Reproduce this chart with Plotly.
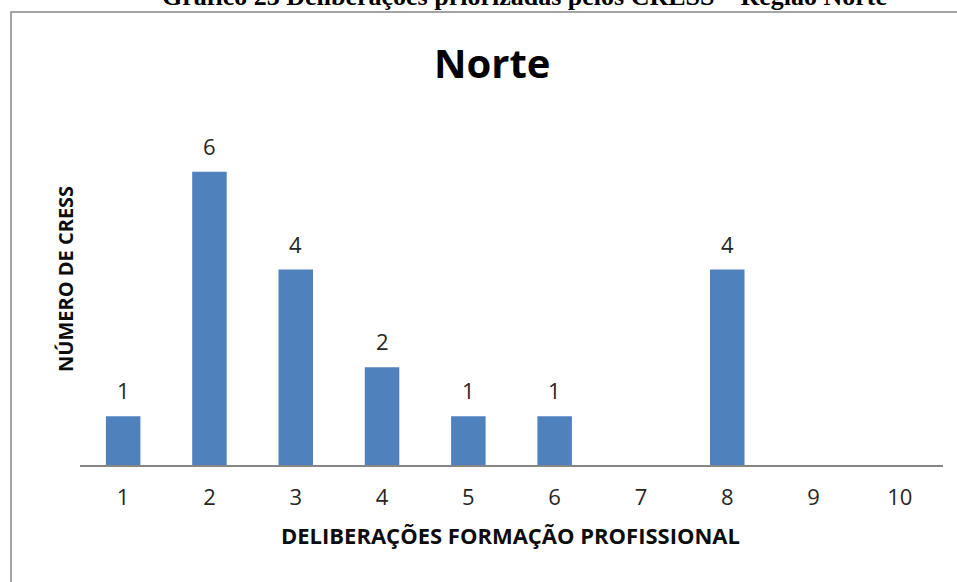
import plotly.graph_objects as go

categories = ["1", "2", "3", "4", "5", "6", "7", "8", "9", "10"]
values = [1, 6, 4, 2, 1, 1, None, 4, None, None]
labels = ["1", "6", "4", "2", "1", "1", "", "4", "", ""]

FONT = "Open Sans"
L, R, T, B = 80, 943, 123, 465  # plot area in page pixels
W, H = 957, 582


def px(x):
    return (x - L) / (R - L)


def py(y):
    return (B - y) / (B - T)


fig = go.Figure(go.Bar(
    x=categories, y=values,
    marker=dict(color="#4F81BD", line=dict(width=0)),
    width=0.4, hoverinfo="x+y",
))

for i, (v, t) in enumerate(zip(values, labels)):
    if v is not None and t:
        fig.add_annotation(x=i, y=v, text=t, showarrow=False, yshift=26,
                           xanchor="center", yanchor="middle",
                           font=dict(family=FONT, size=22, color="#262626"))

fig.update_layout(
    width=W, height=H,
    margin=dict(l=L, r=W - R, t=T, b=H - B),
    paper_bgcolor="white", plot_bgcolor="white",
    showlegend=False,
    xaxis=dict(type="category", showline=True, linecolor="#868686", linewidth=1.5,
               ticks="", tickfont=dict(family=FONT, size=22, color="#262626"),
               showgrid=False, ticklabelstandoff=12),
    yaxis=dict(range=[0, 7], showticklabels=False, showgrid=False, zeroline=False,
               showline=False, ticks=""),
)

fig.add_annotation(text="<b>DELIBERAÇÕES FORMAÇÃO PROFISSIONAL</b>", xref="paper", yref="paper",
                   x=px(510), y=py(535), showarrow=False, xanchor="center", yanchor="middle",
                   font=dict(family=FONT, size=22, color="#0d0d0d"))
fig.add_annotation(text="<b>NÚMERO DE CRESS</b>", xref="paper", yref="paper", textangle=-90,
                   x=px(65), y=py(279), showarrow=False, xanchor="center", yanchor="middle",
                   font=dict(family=FONT, size=20, color="#0d0d0d"))
fig.add_annotation(text="<b>Norte</b>", xref="paper", yref="paper", x=px(492),
                   y=py(63), showarrow=False, xanchor="center", yanchor="middle",
                   font=dict(family=FONT, size=40, color="black"))
fig.add_annotation(text="<b>Gráfico 23 Deliberações priorizadas pelos CRESS – Região Norte</b>",
                   xref="paper", yref="paper", x=px(524), y=py(-4),
                   showarrow=False, xanchor="center", yanchor="middle",
                   font=dict(family="Liberation Serif", size=26, color="black"))
fig.add_shape(type="rect", xref="paper", yref="paper",
              x0=px(11), x1=px(990), y0=py(620), y1=py(12),
              line=dict(color="#868686", width=1.5), fillcolor="rgba(0,0,0,0)", layer="below")

fig.write_html("out.html", config={"displayModeBar": False},
               post_script="document.body.style.margin='0';")
